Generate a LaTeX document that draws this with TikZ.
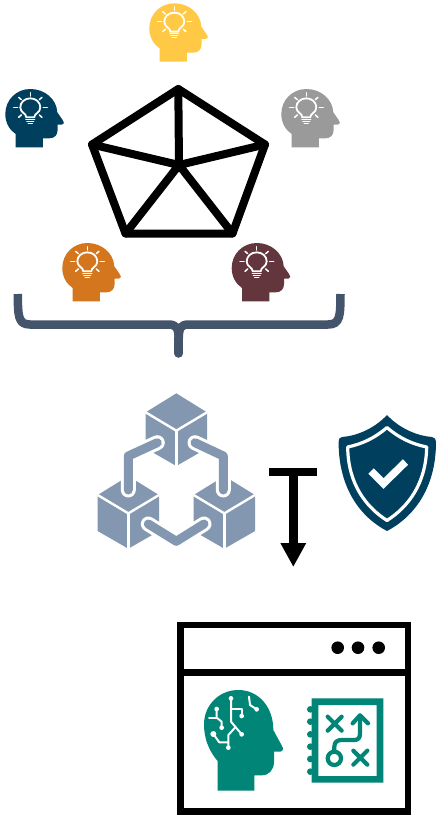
\documentclass[tikz,border=0pt]{standalone}
\usetikzlibrary{arrows.meta}
\definecolor{cYellow}{HTML}{FFC845}
\definecolor{cNavy}{HTML}{00405E}
\definecolor{cGray}{HTML}{9A9A9A}
\definecolor{cOrange}{HTML}{D4761E}
\definecolor{cMaroon}{HTML}{63353D}
\definecolor{cTeal}{HTML}{008577}
\definecolor{cSlate}{HTML}{44546A}
\definecolor{cBlock}{HTML}{8497B0}
\tikzset{
  edgeline/.style={line width=8pt,line join=round,line cap=round,black},
  ray/.style={white,line width=1.5pt,line cap=round},
  trace/.style={white,line width=2pt,line cap=round,line join=round},
  maplink/.style={cTeal,line width=4.2pt,line cap=round,line join=round},
  linkhalo/.style={white,line width=15pt,line cap=round,line join=round},
  linkbar/.style={cBlock,line width=9pt,line cap=round,line join=round},
  cubeline/.style={white,line width=2.4pt},
}
\newcommand{\headicon}[3]{%
  \begin{scope}[shift={(#1,#2)},scale=1/3]
    \fill[#3] (31,175) -- (113,175) -- (113,148) -- (132,148)
      .. controls (148,148) and (157,138) .. (157,122) -- (157,107) -- (170,107)
      .. controls (177,107) and (178,98) .. (172,93) -- (156,70)
      .. controls (154,30) and (118,0) .. (75,0)
      .. controls (33,0) and (0,33) .. (0,75)
      .. controls (0,102) and (13,123) .. (31,135) -- cycle;
    \draw[white,line width=1.8pt,line join=round]
      (63,85) .. controls (63,72) and (45,72) .. (45,55)
      .. controls (45,40) and (58,28) .. (75,28)
      .. controls (92,28) and (105,40) .. (105,55)
      .. controls (105,72) and (87,72) .. (87,85) -- cycle;
    \draw[ray] (75,11) -- (75,21);
    \draw[ray] (25,55) -- (37,55);
    \draw[ray] (114,55) -- (126,55);
    \draw[ray] (40,25) -- (48,32);
    \draw[ray] (110,25) -- (102,32);
    \draw[ray] (40,85) -- (48,78);
    \draw[ray] (110,85) -- (102,78);
    \draw[ray] (62,91) -- (88,91);
    \draw[ray] (65,97) -- (85,97);
    \draw[ray] (69,103) -- (81,103);
  \end{scope}}
\newcommand{\cubeicon}[2]{%
  \begin{scope}[shift={(#1,#2)},scale=1/3]
    \fill[cBlock] (289,40) -- (381,97) -- (381,205) -- (289,258) -- (197,205) -- (197,97) -- cycle;
    \draw[cubeline] (197,97) -- (289,152) -- (381,97);
    \draw[cubeline] (289,152) -- (289,262);
  \end{scope}}
\begin{document}
\begin{tikzpicture}[x=1pt,y=-1pt]
  \useasboundingbox[fill=white] (0,0) rectangle (438,816);

  % pentagon
  \coordinate (pT) at (178.3,89);
  \coordinate (pL) at (92,144.5);
  \coordinate (pR) at (265,144.5);
  \coordinate (pBL) at (125.5,233.5);
  \coordinate (pBR) at (232.5,233.5);
  \coordinate (pC) at (179,165);
  \draw[edgeline] (pT) -- (pR) -- (pBR) -- (pBL) -- (pL) -- cycle;
  \draw[edgeline] (pC) -- (pT) (pC) -- (pL) (pC) -- (pR) (pC) -- (pBL) (pC) -- (pBR);

  % heads
  \headicon{149.3}{3.3}{cYellow}
  \headicon{5.3}{89}{cNavy}
  \headicon{281.3}{89}{cGray}
  \headicon{62.3}{243}{cOrange}
  \headicon{231.7}{243}{cMaroon}

  % brace
  \coordinate (bL) at (17.8,294);
  \coordinate (bR) at (340.5,294);
  \coordinate (bS) at (178.7,353.5);
  \draw[cSlate,line width=8.5pt,line join=round]
    (bL) .. controls (18,316) and (18,324.5) .. (30,324.5) -- (168,324.5)
    .. controls (176,324.5) and (178.7,327) .. (178.7,340);
  \draw[cSlate,line width=8.5pt,line join=round]
    (bR) .. controls (340.3,316) and (340.3,324.5) .. (328,324.5) -- (189,324.5)
    .. controls (181,324.5) and (178.7,327) .. (178.7,340);
  \draw[cSlate,line width=8.5pt,line cap=round] (178.7,338) -- (bS);

  % blockchain
  \cubeicon{80}{380}
  \cubeicon{32}{462.7}
  \cubeicon{128}{462.7}
  \draw[linkhalo] (128.3,490) -- (128.3,456) -- (157.3,442.7);
  \draw[linkhalo] (223.3,490) -- (223.3,456) -- (195,442.7);
  \draw[linkhalo] (148.3,524) -- (176.3,541.3) -- (204,524);
  \draw[linkbar] (128.3,490) -- (128.3,456) -- (157.3,442.7);
  \draw[linkbar] (223.3,490) -- (223.3,456) -- (195,442.7);
  \draw[linkbar] (148.3,524) -- (176.3,541.3) -- (204,524);

  % shield
  \fill[cNavy] (387,415) .. controls (400,429) and (418,436) .. (432,437)
    .. controls (435,437.5) and (436,439) .. (436,442)
    .. controls (436,490) and (412,518) .. (387,531)
    .. controls (362,518) and (338.6,490) .. (338.6,442)
    .. controls (338.6,439) and (339.5,437.5) .. (342,437)
    .. controls (356,436) and (374,429) .. (387,415) -- cycle;
  \draw[white,line width=3.2pt,line join=round]
    (387,427.5) .. controls (399,438) and (412,444) .. (426.7,447)
    .. controls (426,484) and (408,507) .. (387,520.5)
    .. controls (366,507) and (348,484) .. (347.7,447)
    .. controls (362,444) and (375,438) .. (387,427.5) -- cycle;
  \draw[white,line width=7.5pt] (371,471) -- (383.5,483.5) -- (405.5,462);

  % T-bar arrow
  \coordinate (tL) at (269,472);
  \coordinate (tR) at (317.3,472);
  \coordinate (tM) at (293.3,472);
  \coordinate (tTip) at (293.3,567);
  \draw[black,line width=8.5pt] (tL) -- (tR);
  \draw[black,line width=8.5pt,-{Triangle[length=24pt,width=24pt]}] (tM) -- (tTip);

  % window
  \draw[black,line width=6.5pt] (180.3,625.2) rectangle (407.8,811.5);
  \draw[black,line width=6.5pt] (180.3,672.3) -- (407.8,672.3);
  \fill[black] (337.7,647.7) circle (6.3);
  \fill[black] (358,647.7) circle (6.3);
  \fill[black] (378.7,647.7) circle (6.3);

  % AI head
  \begin{scope}[shift={(170,615)},scale=1/3]
    \fill[cTeal] (143,527) -- (253,527) -- (253,481) -- (275,481)
      .. controls (297,481) and (312,465) .. (312,440) -- (312,410) -- (330,410)
      .. controls (339,410) and (341,400) .. (336,393) -- (310,345)
      .. controls (310,275) and (265,225) .. (205,225)
      .. controls (148,225) and (102,270) .. (102,328)
      .. controls (102,375) and (120,412) .. (143,438) -- cycle;
  \end{scope}
  \begin{scope}[shift={(200,685)},scale=1/3]
    \draw[trace] (93,40) -- (93,110) -- (125,148);
    \draw[trace] (93,72) -- (125,72) -- (125,93);
    \draw[trace] (147,35) -- (150,60) -- (170,73);
    \draw[trace] (50,72) -- (50,98) -- (65,110) -- (65,128);
    \draw[trace] (27,98) -- (50,98);
    \draw[trace] (40,147) -- (58,172) -- (85,172) -- (85,188);
    \draw[trace] (85,172) -- (85,150) -- (105,128);
    \fill[white] (93,40) circle (7) (125,93) circle (7) (170,73) circle (7)
      (50,72) circle (7) (65,128) circle (7) (40,147) circle (9) (85,188) circle (7) (125,148) circle (7);
  \end{scope}

  % strategy notebook
  \begin{scope}[shift={(170,615)},scale=1/3]
    \foreach \ry in {283,320,358,395,432,470} \fill[cTeal] (421,\ry) circle (10);
    \fill[cTeal,even odd rule] (425,250) rectangle (640,503) (445,270) rectangle (620,483);
    \draw[maplink] (473,305) -- (515,347) (515,305) -- (473,347);
    \draw[maplink] (550,407) -- (592,449) (592,407) -- (550,449);
    \draw[maplink] (493,430) circle (20);
    \draw[maplink] (493,408) -- (493,395) .. controls (493,380) and (503,375) .. (515,375)
      -- (553,375) .. controls (565,375) and (570,368) .. (570,355) -- (570,302);
    \draw[maplink] (548,325) -- (570,301) -- (594,325);
  \end{scope}
\end{tikzpicture}
\end{document}
